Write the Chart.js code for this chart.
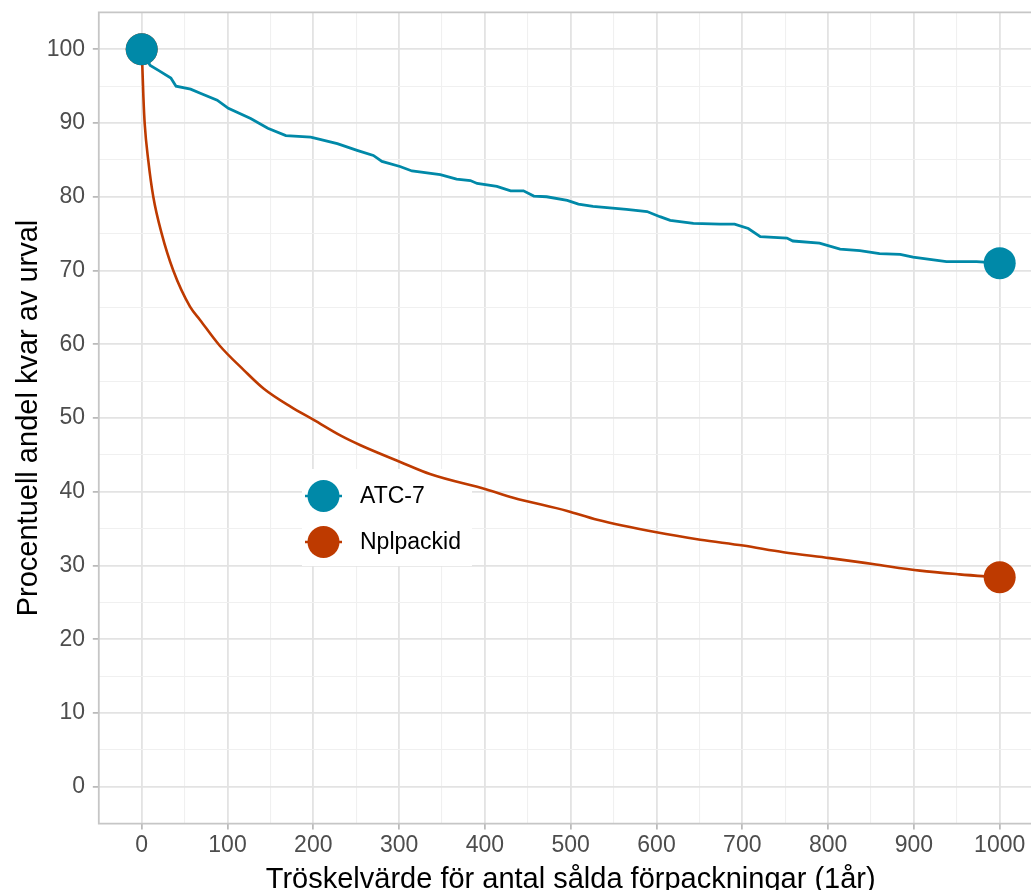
<!DOCTYPE html>
<html lang="sv">
<head>
<meta charset="utf-8">
<title>Procentuell andel kvar av urval</title>
<script src="https://cdn.jsdelivr.net/npm/chart.js@4.4.1/dist/chart.umd.min.js"></script>
<style>
  html, body { margin: 0; padding: 0; background: #fff; overflow: hidden; }
  canvas { display: block; }
</style>
</head>
<body>
<canvas id="graficoUrval" width="1031" height="890"></canvas>
<script>
// Serier
const serieNamn = ['ATC-7', 'Nplpackid'];
const serieFarg = ['#0089A8', '#BE3A00'];

const atcX = [0, 5, 10, 20, 34, 40, 57, 69, 88, 101, 127, 147, 168, 197, 228, 251, 270, 280, 301, 315,
  348, 367, 383, 391, 414, 430, 445, 457, 472, 496, 509, 526, 565, 589, 604, 616, 643, 674, 691, 707,
  721, 752, 759, 790, 814, 837, 860, 884, 899, 938, 973, 1000];
const atcY = [100, 98.7, 97.8, 97.1, 96.1, 95.0, 94.6, 94.0, 93.1, 92.0, 90.6, 89.3, 88.3, 88.1, 87.2, 86.3, 85.6, 84.8, 84.1, 83.5,
  83.0, 82.4, 82.2, 81.8, 81.4, 80.8, 80.8, 80.1, 80.0, 79.5, 79.0, 78.7, 78.3, 78.0, 77.3, 76.8, 76.4, 76.3, 76.3, 75.7,
  74.6, 74.4, 74.0, 73.7, 72.9, 72.7, 72.3, 72.2, 71.8, 71.2, 71.2, 71.0];

const nplX = [0, 0.8, 2, 3.5, 7.7, 13.5, 23.3, 36.8, 56.3, 68, 91, 119, 142, 174, 201, 232, 255, 302, 336, 402,
  433, 496, 531, 600, 651, 701, 748, 802, 852, 907, 953, 1000];
const nplY = [100, 97.5, 93.5, 89.9, 84.9, 80.0, 75.0, 70.0, 65.1, 63.3, 59.8, 56.5, 54.0, 51.5, 49.7, 47.6, 46.3, 44.0, 42.4, 40.3,
  39.2, 37.4, 36.2, 34.5, 33.5, 32.7, 31.8, 31.0, 30.2, 29.3, 28.8, 28.4];

const xTickEtiketter = [0, 100, 200, 300, 400, 500, 600, 700, 800, 900, 1000];
const yTickEtiketter = [0, 10, 20, 30, 40, 50, 60, 70, 80, 90, 100];

const xTitel = 'Tröskelvärde för antal sålda förpackningar (1år)';
const yTitel = 'Procentuell andel kvar av urval';

const FONT = '"Liberation Sans", Arial, Helvetica, sans-serif';
const TRANSP = 'rgba(0,0,0,0)';

// Panelens läge i bilden (pixlar); höger kant ligger utanför bilden
const panel = { left: 98.8, top: 12.4, right: 1031, bottom: 823.6 };

function tillPunkter(xs, ys) {
  return xs.map((x, i) => ({ x: x, y: ys[i] }));
}

// Stora cirklar bara i första och sista punkten
function radieEndpunkt(ctx) {
  const n = ctx.dataset.data.length;
  return (ctx.dataIndex === 0 || ctx.dataIndex === n - 1) ? 16 : 0;
}

// Rutnät: hela linjer på etiketterna, tunnare mellan dem
function gridFarg(etiketter) {
  return (ctx) => {
    const v = ctx.tick ? ctx.tick.value : null;
    return etiketter.includes(v) ? '#e3e3e3' : '#f0f0f0';
  };
}
function gridBredd(etiketter) {
  return (ctx) => {
    const v = ctx.tick ? ctx.tick.value : null;
    return etiketter.includes(v) ? 1.8 : 1.1;
  };
}
function tickFarg(etiketter) {
  return (ctx) => {
    const v = ctx.tick ? ctx.tick.value : null;
    return etiketter.includes(v) ? '#b3b3b3' : TRANSP;
  };
}
// null döljer kantlinjerna, '' ger mellanlinje utan text
function tickText(etiketter, steg, min, max) {
  return (v) => {
    if (v <= min || v >= max || Math.abs(v / steg - Math.round(v / steg)) > 1e-6) return null;
    return etiketter.includes(v) ? String(v) : '';
  };
}

// Legendens vita bakgrund ligger under linjerna
const legendBakgrund = {
  id: 'legendBakgrund',
  beforeDatasetsDraw(chart) {
    const ctx = chart.ctx;
    ctx.save();
    ctx.fillStyle = '#ffffff';
    ctx.fillRect(302, 469, 170, 97);
    ctx.restore();
  }
};

// Legend, panelram och axeltitlar
const ramOchTexter = {
  id: 'ramOchTexter',
  afterDraw(chart) {
    const { ctx, chartArea: a } = chart;
    ctx.save();

    const radY = [496, 542];
    serieNamn.forEach((namn, i) => {
      ctx.strokeStyle = serieFarg[i];
      ctx.lineWidth = 2.6;
      ctx.beginPath();
      ctx.moveTo(305, radY[i]);
      ctx.lineTo(342, radY[i]);
      ctx.stroke();
      ctx.fillStyle = serieFarg[i];
      ctx.beginPath();
      ctx.arc(323.5, radY[i], 16, 0, Math.PI * 2);
      ctx.fill();
      ctx.fillStyle = '#000000';
      ctx.font = '23px ' + FONT;
      ctx.textAlign = 'left';
      ctx.textBaseline = 'middle';
      ctx.fillText(namn, 360, radY[i] + 1);
    });

    // Ram: topp, vänster, botten (höger kant är utanför bilden)
    ctx.strokeStyle = '#c6c6c6';
    ctx.lineWidth = 1.8;
    ctx.beginPath();
    ctx.moveTo(a.right + 2, a.top);
    ctx.lineTo(a.left, a.top);
    ctx.lineTo(a.left, a.bottom);
    ctx.lineTo(a.right + 2, a.bottom);
    ctx.stroke();

    // Axeltitlar
    ctx.fillStyle = '#000000';
    ctx.font = '29px ' + FONT;
    ctx.textAlign = 'center';
    ctx.textBaseline = 'alphabetic';
    ctx.fillText(xTitel, 570.7, 887.5);

    ctx.translate(36.5, (a.top + a.bottom) / 2);
    ctx.rotate(-Math.PI / 2);
    ctx.fillText(yTitel, 0, 0);

    ctx.restore();
  }
};

const canvas = document.getElementById('graficoUrval');

const grafico = new Chart(canvas.getContext('2d'), {
  type: 'line',
  data: {
    datasets: [
      {
        label: serieNamn[0],
        data: tillPunkter(atcX, atcY),
        borderColor: serieFarg[0],
        backgroundColor: serieFarg[0],
        borderWidth: 2.8,
        tension: 0,
        pointRadius: radieEndpunkt,
        pointHoverRadius: radieEndpunkt,
        pointBorderWidth: 0,
        fill: false
      },
      {
        label: serieNamn[1],
        data: tillPunkter(nplX, nplY),
        borderColor: serieFarg[1],
        backgroundColor: serieFarg[1],
        borderWidth: 2.6,
        cubicInterpolationMode: 'monotone',
        pointRadius: radieEndpunkt,
        pointHoverRadius: radieEndpunkt,
        pointBorderWidth: 0,
        fill: false
      }
    ]
  },
  options: {
    responsive: false,
    maintainAspectRatio: false,
    animation: false,
    events: [],
    layout: { autoPadding: false, padding: { top: 12.4, right: 0, bottom: 0, left: 0 } },
    plugins: {
      legend: { display: false },
      tooltip: { enabled: false }
    },
    scales: {
      x: {
        type: 'linear',
        min: -50,
        max: 1036.5,
        border: { display: false },
        grid: {
          color: gridFarg(xTickEtiketter),
          lineWidth: gridBredd(xTickEtiketter),
          tickColor: tickFarg(xTickEtiketter),
          tickWidth: 1.6,
          tickLength: 6
        },
        ticks: {
          stepSize: 50,
          includeBounds: false,
          autoSkip: false,
          maxRotation: 0,
          padding: 2.6,
          color: '#4d4d4d',
          font: { family: FONT, size: 23 },
          callback: tickText(xTickEtiketter, 50, -50, 1036.5)
        },
        afterFit(scale) {
          scale.height = 66.4;
          scale.paddingLeft = 0;
          scale.paddingRight = 0;
        }
      },
      y: {
        type: 'linear',
        min: -5,
        max: 105,
        border: { display: false },
        grid: {
          color: gridFarg(yTickEtiketter),
          lineWidth: gridBredd(yTickEtiketter),
          tickColor: tickFarg(yTickEtiketter),
          tickWidth: 1.6,
          tickLength: 6
        },
        ticks: {
          stepSize: 5,
          autoSkip: false,
          padding: 7.8,
          color: '#4d4d4d',
          font: { family: FONT, size: 23 },
          callback: tickText(yTickEtiketter, 5, -5, 105)
        },
        afterFit(scale) {
          scale.width = 98.8;
          scale.paddingTop = 0;
          scale.paddingBottom = 0;
        }
      }
    }
  },
  plugins: [legendBakgrund, ramOchTexter]
});

// Justera marginalerna tills panelen hamnar där den ska
for (let i = 0; i < 3; i++) {
  const a = grafico.chartArea;
  const p = grafico.options.layout.padding;
  p.top = Math.max(0, p.top + panel.top - a.top);
  p.left = Math.max(0, p.left + panel.left - a.left);
  p.right = Math.max(0, p.right + a.right - panel.right);
  p.bottom = Math.max(0, p.bottom + a.bottom - panel.bottom);
  grafico.update();
}
</script>
</body>
</html>
